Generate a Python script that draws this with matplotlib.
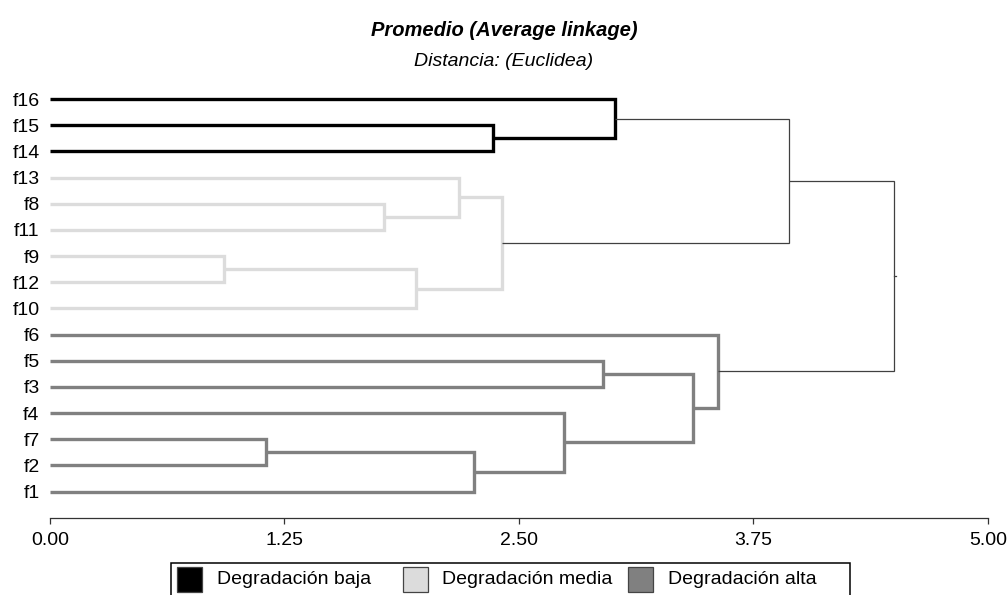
import matplotlib
matplotlib.use("Agg")
import matplotlib.pyplot as plt
from matplotlib.patches import Rectangle

plt.rcParams["font.family"] = ["Liberation Sans", "DejaVu Sans"]

# leaf order, top to bottom
leaves = ["f16", "f15", "f14", "f13", "f8", "f11", "f9", "f12", "f10",
          "f6", "f5", "f3", "f4", "f7", "f2", "f1"]

# merges: children are leaf names or the index of an earlier merge
merge_a = ["f15", "f16", "f8", "f13", "f9", 4, 3, 1,
           "f7", 8, "f4", "f5", 11, "f6", 7]
merge_b = ["f14", 0, "f11", 2, "f12", "f10", 5, 6,
           "f2", "f1", 9, "f3", 10, 12, 13]
merge_h = [2.36, 3.01, 1.78, 2.18, 0.93, 1.95, 2.41, 3.94,
           1.15, 2.26, 2.74, 2.95, 3.43, 3.56, 4.50]
merge_group = ["baja", "baja", "media", "media", "media", "media", "media", "link",
               "alta", "alta", "alta", "alta", "alta", "alta", "link"]

group_names = ["Degradación baja", "Degradación media", "Degradación alta"]
group_keys = ["baja", "media", "alta"]

styles = {
    "baja": dict(color="#000000", lw=2.4),
    "media": dict(color="#dcdcdc", lw=2.4),
    "alta": dict(color="#808080", lw=2.4),
    "link": dict(color="#404040", lw=0.9),
}

W, H = 1008, 595
fig = plt.figure(figsize=(W / 100, H / 100), dpi=100)
ax = fig.add_axes([0.0496, 0.1299, 0.9303, 0.7476])

leaf_y = {name: i for i, name in enumerate(leaves)}
node_pos = []  # (x, y) of each merge


def child_pos(c):
    if isinstance(c, str):
        return 0.0, leaf_y[c]
    return node_pos[c]


for a, b, h, g in zip(merge_a, merge_b, merge_h, merge_group):
    xa, ya = child_pos(a)
    xb, yb = child_pos(b)
    st = styles[g]
    ax.plot([xa, h, h, xb], [ya, ya, yb, yb], color=st["color"], lw=st["lw"],
            solid_joinstyle="miter", solid_capstyle="butt")
    node_pos.append((h, (ya + yb) / 2))

# short stub on the root node
root_x, root_y = node_pos[-1]
ax.plot([root_x, root_x + 0.012], [root_y, root_y], **styles["link"])

ax.set_xlim(0, 5)
ax.set_ylim(16.0, -1.0)
ax.set_yticks(range(len(leaves)))
ax.set_yticklabels(leaves, fontsize=14)
ax.tick_params(axis="y", length=0, pad=7.5)
ax.set_xticks([0, 1.25, 2.5, 3.75, 5])
ax.set_xticklabels(["0.00", "1.25", "2.50", "3.75", "5.00"], fontsize=14)
ax.tick_params(axis="x", direction="out", length=4, width=0.9, color="#333333", pad=6)
for s in ["left", "top", "right"]:
    ax.spines[s].set_visible(False)
ax.spines["bottom"].set_color("#333333")
ax.spines["bottom"].set_linewidth(0.9)

fig.text(0.5, 1 - 30 / H, "Promedio (Average linkage)", ha="center", va="center",
         fontsize=14.5, fontweight="bold", fontstyle="italic")
fig.text(0.5, 1 - 61 / H, "Distancia: (Euclidea)", ha="center", va="center",
         fontsize=14, fontstyle="italic")


# legend drawn by hand: equal-width columns in a box that runs off the bottom
def px(x, y):
    return x / W, 1 - y / H


fig.patches.append(Rectangle(px(171, 600), 679 / W, 37 / H, transform=fig.transFigure,
                             facecolor="white", edgecolor="black", lw=1.1))
for i, (key, name) in enumerate(zip(group_keys, group_names)):
    x0 = 177 + 225.5 * i
    fig.patches.append(Rectangle(px(x0, 592), 25 / W, 25 / H, transform=fig.transFigure,
                                 facecolor=styles[key]["color"], edgecolor="#444444", lw=0.9))
    fig.text(*px(x0 + 40, 580), name, ha="left", va="center", fontsize=14)

fig.savefig("out.png", dpi=100)
